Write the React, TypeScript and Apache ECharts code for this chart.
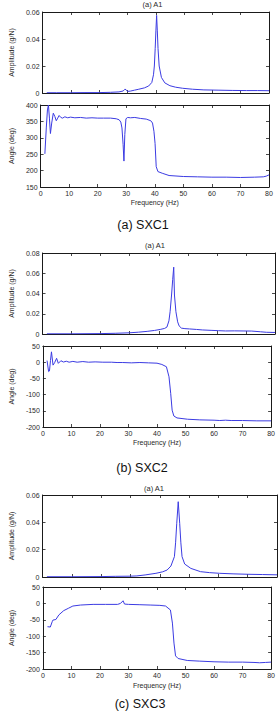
import React, { useEffect, useRef } from "react";
import * as echarts from "echarts";

// ---- Data ----
const xTicks = { min: 0, max: 80, interval: 10 };

// (a) SXC1
const f1A = [1.5, 5, 10, 15, 20, 24, 27, 28.5, 29.1, 29.5, 30, 31, 32.5, 34, 36, 37.5, 38.6, 39.2, 39.5, 39.8, 40.05, 40.3, 40.55, 40.8, 41.2, 42, 43.2, 45, 47, 49.5, 53, 57, 62, 67, 72, 76, 80];
const a1A = [0.0002, 0.0002, 0.0002, 0.0003, 0.0003, 0.0005, 0.0008, 0.0015, 0.0028, 0.0025, 0.0012, 0.0014, 0.0021, 0.0028, 0.0038, 0.0052, 0.0078, 0.0135, 0.02, 0.033, 0.046, 0.0575, 0.046, 0.033, 0.02, 0.0115, 0.0075, 0.0054, 0.0043, 0.0035, 0.0028, 0.0023, 0.0021, 0.0019, 0.0018, 0.0018, 0.0017];
const f1P = [1.5, 2.0, 2.4, 2.75, 3.1, 3.45, 3.9, 4.45, 5.0, 5.5, 6.0, 6.5, 7.1, 7.7, 8.5, 9.5, 10.5, 12, 14, 16, 18, 20, 22, 24.5, 26.5, 27.5, 28.1, 28.5, 28.9, 29.2, 29.5, 29.9, 30.5, 31.5, 33, 35, 37, 38.6, 39.2, 39.7, 40.1, 40.5, 41.1, 42.6, 45, 50, 55, 60, 65, 70, 75, 78, 79, 80];
const a1P = [251, 330, 385, 400, 360, 313, 345, 375, 365, 352, 360, 368, 362, 360, 364, 361, 363, 361, 362, 360, 361, 360, 360, 360, 358, 355, 348, 330, 280, 229, 310, 358, 362, 361, 362, 359, 357, 352, 345, 320, 283, 212, 197, 192, 185, 182, 181, 180, 180, 179, 180, 181, 183, 187];

// (b) SXC2
const f2A = [1.5, 10, 20, 25, 30, 33, 36, 38.5, 40.5, 42, 42.8, 43.5, 43.9, 44.4, 44.8, 45.15, 45.4, 45.9, 46.5, 47, 47.8, 49, 50.6, 53, 55, 58, 60.5, 63, 66, 69, 72, 75, 77, 80];
const a2A = [0.0002, 0.0002, 0.0004, 0.0007, 0.0012, 0.0018, 0.0026, 0.0035, 0.0045, 0.0055, 0.0068, 0.013, 0.022, 0.0385, 0.054, 0.066, 0.0385, 0.022, 0.012, 0.008, 0.0058, 0.0053, 0.005, 0.0045, 0.004, 0.0036, 0.0033, 0.003, 0.0031, 0.003, 0.0029, 0.0022, 0.0017, 0.0015];
const f2P = [1.45, 2.0, 2.3, 2.65, 3.0, 3.55, 4.1, 4.8, 5.4, 6.3, 7.2, 8.2, 9.2, 10.5, 12, 14, 16, 18.3, 21, 24, 26, 28, 31, 34, 37, 40, 41.7, 43.3, 44.2, 44.8, 45.3, 45.9, 47, 50.7, 55, 60, 62, 64, 66, 70, 75, 80];
const a2P = [5, -29, -27, 5, 32, -9, -1.5, 12, -3.5, 4.5, 0.5, 3, 0, 2.5, 0, 2, 0, 1, 0, 0, -1, -1, -2, -1, -2, -3, -7, -14, -45, -96, -148, -166, -172, -176, -178, -179, -180, -179, -180, -180, -181, -181];

// (c) SXC3
const f3A = [1.5, 10, 20, 25, 30, 32.2, 35, 38.7, 41, 42.5, 43.8, 45.0, 45.4, 45.8, 46.3, 46.8, 47.2, 47.6, 48.5, 50.6, 53.9, 57, 60.4, 65, 70, 75, 80];
const a3A = [0.0002, 0.0002, 0.0003, 0.0005, 0.0006, 0.0008, 0.0015, 0.0027, 0.0038, 0.0051, 0.008, 0.0149, 0.025, 0.0393, 0.0551, 0.0393, 0.025, 0.0149, 0.0095, 0.0063, 0.0039, 0.0032, 0.0027, 0.0023, 0.002, 0.0018, 0.0016];
const f3P = [1.6, 2.6, 3.25, 3.5, 4.55, 5.6, 7.3, 8.9, 10.5, 13.2, 17.6, 22, 26.2, 27.2, 28.1, 28.6, 30, 34, 37.6, 41, 43, 44.7, 45.4, 45.95, 46.5, 47.4, 50.6, 55, 60, 65, 70, 74, 76, 78, 80];
const a3P = [-71, -72, -56, -51, -49, -35, -22, -15, -8, -5, -3, -3, -3, 0, 8, -2, -3, -4, -5, -6, -8, -20, -60, -121, -160, -168, -174, -176, -178, -179, -179, -180, -181, -180, -179];

const ampRange1 = { min: 0, max: 0.06, interval: 0.02 };
const ampRange2 = { min: 0, max: 0.08, interval: 0.02 };
const ampRange3 = { min: 0, max: 0.06, interval: 0.02 };
const angRange1 = { min: 150, max: 400, interval: 50 };
const angRange2 = { min: -200, max: 50, interval: 50 };
const angRange3 = { min: -200, max: 50, interval: 50 };

const panelTitles = ["(a) A1", "(a) A1", "(a) A1"];
const captions = ["(a) SXC1", "(b) SXC2", "(c) SXC3"];
const ampName = "Amplitude (g/N)";
const angName = "Angle (deg)";
const freqName = "Frequency (Hz)";

const FONT = "'Liberation Sans', Arial, Helvetica, sans-serif";
const LINE = "#3b3be2";
const AX = "#1a1a1a";
const TXT = "#2a2a2a";

export default function App() {
  const ref = useRef<HTMLDivElement>(null);
  useEffect(() => {
    if (!ref.current) return;
    const chart = echarts.init(ref.current, undefined, { renderer: "svg" });

    const grids = [
      { left: 36, top: 12, width: 233, height: 81 },
      { left: 36, top: 105, width: 233, height: 82 },
      { left: 35, top: 253, width: 240, height: 81 },
      { left: 35, top: 346, width: 240, height: 81 },
      { left: 31, top: 495, width: 246, height: 82 },
      { left: 31, top: 587, width: 246, height: 82 },
    ];
    const yRanges = [ampRange1, angRange1, ampRange2, angRange2, ampRange3, angRange3];
    const yNames = [ampName, angName, ampName, angName, ampName, angName];
    const yGaps = [19.5, 17.5, 21.5, 21, 21.5, 21];
    const xGaps = [0, 11.5, 0, 11.5, 0, 13];
    const datasets = [
      [f1A, a1A], [f1P, a1P], [f2A, a2A], [f2P, a2P], [f3A, a3A], [f3P, a3P],
    ];

    const tick = { show: true, inside: true, length: 3, lineStyle: { color: AX, width: 0.8 } };
    const line = { show: true, onZero: false, lineStyle: { color: AX, width: 1 } };
    const xAxis: any[] = [];
    const yAxis: any[] = [];
    grids.forEach((g, i) => {
      const isAngle = i % 2 === 1;
      xAxis.push({
        type: "value", gridIndex: i, position: "bottom", ...xTicks,
        axisLine: line, axisTick: tick, splitLine: { show: false },
        axisLabel: { show: isAngle, fontSize: 7, color: TXT, fontFamily: FONT, margin: 3 },
        name: isAngle ? freqName : "", nameLocation: "middle", nameGap: xGaps[i],
        nameTextStyle: { fontSize: 7, color: TXT, fontFamily: FONT },
      });
      xAxis.push({
        type: "value", gridIndex: i, position: "top", ...xTicks,
        axisLine: line, axisTick: tick, splitLine: { show: false }, axisLabel: { show: false },
      });
      yAxis.push({
        type: "value", gridIndex: i, position: "left", ...yRanges[i],
        axisLine: line, axisTick: tick, splitLine: { show: false },
        axisLabel: { show: true, fontSize: 7, color: TXT, fontFamily: FONT, margin: 3 },
        name: yNames[i], nameLocation: "middle", nameGap: yGaps[i],
        nameTextStyle: { fontSize: 7, color: TXT, fontFamily: FONT },
      });
      yAxis.push({
        type: "value", gridIndex: i, position: "right", ...yRanges[i],
        axisLine: line, axisTick: tick, splitLine: { show: false }, axisLabel: { show: false },
      });
    });

    const series = datasets.map(([xs, ys], i) => ({
      type: "line",
      xAxisIndex: 2 * i,
      yAxisIndex: 2 * i,
      data: xs.map((x, k) => [x, ys[k]]),
      showSymbol: false,
      symbol: "none",
      lineStyle: { color: LINE, width: 1 },
      clip: true,
    }));

    const titleCenters = [[152.5, 4.5], [155, 245], [154, 488]];
    const captionCenters = [[143, 225], [142, 468], [140, 703.5]];
    const graphic: any[] = [];
    titleCenters.forEach(([x, y], i) => {
      graphic.push({
        type: "text", x, y,
        style: { text: panelTitles[i], fontSize: 7.5, fontFamily: FONT, fill: TXT, textAlign: "center", textVerticalAlign: "middle" },
      });
    });
    captionCenters.forEach(([x, y], i) => {
      graphic.push({
        type: "text", x, y,
        style: { text: captions[i], fontSize: 12.5, fontFamily: FONT, fill: "#111", textAlign: "center", textVerticalAlign: "middle" },
      });
    });

    chart.setOption({
      animation: false,
      backgroundColor: "#ffffff",
      grid: grids.map((g) => ({ ...g, containLabel: false })),
      xAxis,
      yAxis,
      series,
      graphic,
    });
    return () => chart.dispose();
  }, []);

  return (
    <div
      ref={ref}
      style={{ position: "absolute", left: 0, top: 0, width: 278, height: 711, background: "#fff" }}
    />
  );
}
